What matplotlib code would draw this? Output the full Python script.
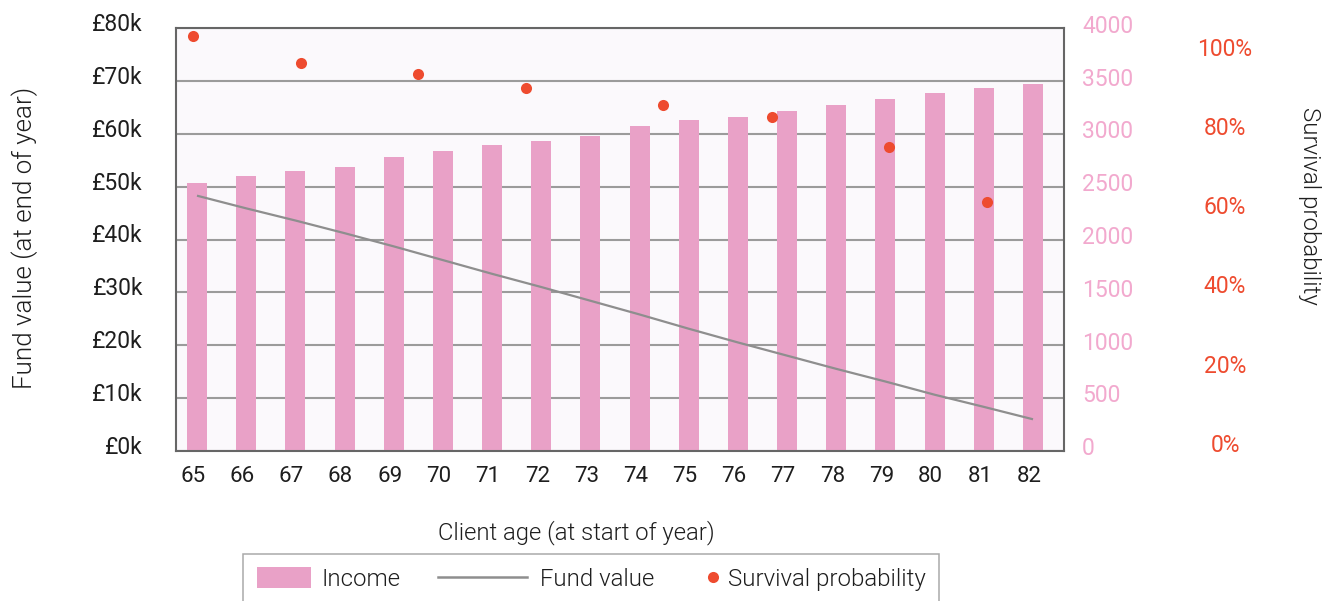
import matplotlib
matplotlib.use("Agg")
import matplotlib.pyplot as plt
import matplotlib.transforms as mtransforms
from matplotlib.patches import Rectangle, Patch
from matplotlib.lines import Line2D

# ---------------- data ----------------
ages = [65, 66, 67, 68, 69, 70, 71, 72, 73, 74, 75, 76, 77, 78, 79, 80, 81, 82]
income = [2535, 2601, 2649, 2686, 2781, 2838, 2895, 2933, 2983,
          3075, 3132, 3160, 3217, 3274, 3330, 3387, 3435, 3472]
fund_value = [48300, 45900, 43600, 41200, 38700, 36100, 33500, 31000, 28400,
              25800, 23100, 20500, 18000, 15500, 13100, 10600, 8300, 5950]
survival_age = [64.92, 67.12, 69.49, 71.69, 74.47, 76.69, 79.08, 81.07]
survival_prob = [1.028, 0.959, 0.930, 0.896, 0.853, 0.823, 0.748, 0.609]

fund_ticks = [0, 10000, 20000, 30000, 40000, 50000, 60000, 70000, 80000]
fund_tick_labels = ["£0k", "£10k", "£20k", "£30k", "£40k", "£50k", "£60k", "£70k", "£80k"]
income_ticks = [0, 500, 1000, 1500, 2000, 2500, 3000, 3500, 4000]
survival_ticks = [0.0, 0.2, 0.4, 0.6, 0.8, 1.0]
survival_tick_labels = ["0%", "20%", "40%", "60%", "80%", "100%"]

# ---------------- style ----------------
W, H = 1336, 601
PINK = "#E9A1C7"
PINK_TXT = "#F2A9CE"
RED = "#EE4B2F"
GREY_LINE = "#8E8E8E"
GRID = "#9B9B9B"
BG = "#FBF9FC"
SPINE = "#666666"
TXT = "#1E1E1E"
TITLE = "#1E1E1E"
FONT = "Roboto"
LIGHT = 300


def fx(x):
    return x / W


def fy(y):
    return 1 - y / H


fig = plt.figure(figsize=(W / 100, H / 100), dpi=100)
fig.patch.set_facecolor("white")

L, R, T, B = 175.7, 1064.0, 28.3, 450.7
ax = fig.add_axes([fx(L), fy(B), (R - L) / W, (B - T) / H])
ax_inc = ax.twinx()
ax_surv = ax.twinx()

ax_inc.set_zorder(1)
ax.set_zorder(2)
ax_surv.set_zorder(3)
ax.patch.set_visible(False)
ax_surv.patch.set_visible(False)
ax_inc.patch.set_visible(True)
ax_inc.patch.set_facecolor(BG)

# income bars + grid (bottom layer)
ax_inc.bar(ages, income, width=0.407, color=PINK, zorder=2)
ax_inc.set_ylim(0, 4000)
ax_inc.set_yticks(income_ticks)
ax_inc.set_yticklabels([str(v) for v in income_ticks])
ax_inc.yaxis.grid(True, color=GRID, lw=1.5)
ax_inc.set_axisbelow(True)
ax_inc.tick_params(axis="y", length=0, pad=13, labelcolor=PINK_TXT, labelsize=16.5)
for lab in ax_inc.get_yticklabels():
    lab.set_fontfamily(FONT)
    lab.set_fontweight("normal")

# fund value line
ax.plot(ages, fund_value, color=GREY_LINE, lw=1.6, solid_capstyle="butt", zorder=3)
ax.set_ylim(0, 80000)
ax.set_xlim(64.567, 82.63)
ax.set_yticks(fund_ticks)
ax.set_yticklabels(fund_tick_labels)
ax.set_xticks(ages)
ax.set_xticklabels([str(a) for a in ages])
ax.tick_params(axis="y", length=0, pad=23.5, labelcolor=TXT, labelsize=16.5)
ax.tick_params(axis="x", length=0, pad=11, labelcolor=TXT, labelsize=16)
for lab in ax.get_yticklabels() + ax.get_xticklabels():
    lab.set_fontfamily(FONT)

# survival probability dots
ax_surv.scatter(survival_age, survival_prob, s=64, color=RED, linewidths=0, zorder=4)
ax_surv.set_ylim(-0.0194, 1.0465)
ax_surv.set_yticks(survival_ticks)
ax_surv.set_yticklabels(survival_tick_labels)
ax_surv.tick_params(axis="y", length=0, pad=116, labelcolor=RED, labelsize=16.5)
for lab in ax_surv.get_yticklabels():
    lab.set_fontfamily(FONT)
    lab.set_horizontalalignment("center")

# spines
for a in (ax_inc, ax_surv):
    for s in a.spines.values():
        s.set_visible(False)
for s in ax.spines.values():
    s.set_visible(True)
    s.set_color(SPINE)
    s.set_linewidth(1.5)

# small label offsets
up6 = mtransforms.ScaledTranslation(0, 6 / 100, fig.dpi_scale_trans)
up4 = mtransforms.ScaledTranslation(0, 4.5 / 100, fig.dpi_scale_trans)
left4 = mtransforms.ScaledTranslation(-4 / 100, 0, fig.dpi_scale_trans)
for lab in ax.get_yticklabels():
    lab.set_transform(lab.get_transform() + up6)
for lab in ax_inc.get_yticklabels():
    lab.set_transform(lab.get_transform() + up4)
for lab in ax.get_xticklabels():
    lab.set_transform(lab.get_transform() + left4)

# axis titles
fig.text(fx(25), fy(238), "Fund value (at end of year)", rotation=90,
         ha="center", va="center", fontsize=18.7, fontfamily=FONT,
         fontweight=LIGHT, color=TITLE)
fig.text(fx(1309), fy(206), "Survival probability", rotation=270,
         ha="center", va="center", fontsize=17.3, fontfamily=FONT,
         fontweight=LIGHT, color=TITLE)
fig.text(fx(576.5), fy(539), "Client age (at start of year)",
         ha="center", va="baseline", fontsize=17.2, fontfamily=FONT,
         fontweight=LIGHT, color=TITLE)

# legend (frame + three single-entry legends)
frame = Rectangle((fx(242.7), fy(608)), fx(939.3) - fx(242.7), fy(553.7) - fy(608),
                  transform=fig.transFigure, facecolor="white", edgecolor="#AAAAAA",
                  lw=1.1, zorder=1, clip_on=False)
fig.add_artist(frame)

LFS = 17.3
lprops = dict(family=FONT, weight=LIGHT, size=LFS)
fs_px = LFS / 72 * 100
common = dict(frameon=False, borderpad=0, borderaxespad=0, loc="center left",
              prop=lprops, labelcolor=TITLE, handleheight=22 / fs_px)

leg1 = fig.legend([Patch(facecolor=PINK, edgecolor="none")], ["Income"],
                  bbox_to_anchor=(fx(257), fy(579)),
                  handlelength=54 / fs_px, handletextpad=11 / fs_px, **common)
leg2 = fig.legend([Line2D([], [], color=GREY_LINE, lw=1.8)], ["Fund value"],
                  bbox_to_anchor=(fx(438), fy(579)),
                  handlelength=89 / fs_px, handletextpad=13 / fs_px, **common)
leg3 = fig.legend([Line2D([], [], ls="", marker="o", markersize=8,
                          markerfacecolor=RED, markeredgecolor="none")],
                  ["Survival probability"],
                  bbox_to_anchor=(fx(707), fy(579)),
                  handlelength=11 / fs_px, handletextpad=10 / fs_px, **common)
for lg in (leg1, leg2, leg3):
    lg.set_zorder(2)

fig.savefig("out.png", dpi=100, facecolor="white")
